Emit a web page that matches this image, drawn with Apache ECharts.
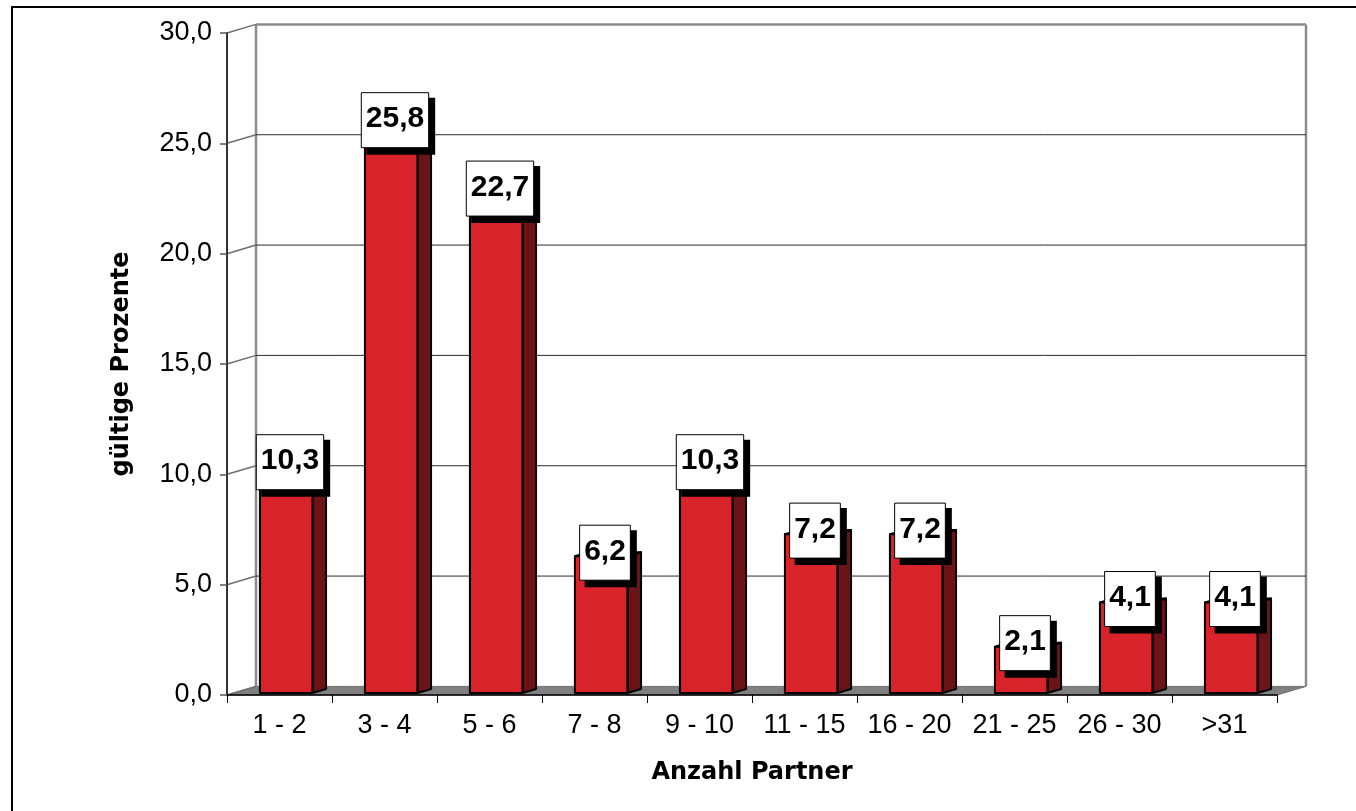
<!DOCTYPE html>
<html><head><meta charset="utf-8">
<script src="https://cdn.jsdelivr.net/npm/echarts@6/dist/echarts.min.js"></script>
<style>html,body{margin:0;padding:0;background:#fff}#c{width:1356px;height:811px}</style>
</head><body><div id="c"></div>
<script>
const categories = ['1 - 2','3 - 4','5 - 6','7 - 8','9 - 10','11 - 15','16 - 20','21 - 25','26 - 30','>31'];
const values = [10.3, 25.8, 22.7, 6.2, 10.3, 7.2, 7.2, 2.1, 4.1, 4.1];
const yTicks = [0, 5, 10, 15, 20, 25, 30];
const xTitle = 'Anzahl Partner';
const yTitle = 'gültige Prozente';

const DX = 29, DY = -8.6;      // depth offset of the back wall
const T1 = 0.23, T2 = 0.70;    // bar depth (front / back)
const fmt = v => v.toFixed(1).replace('.', ',');
const LABEL_FONT = 'bold 30px "Liberation Sans", Arial, sans-serif';
const mctx = document.createElement('canvas').getContext('2d');
mctx.font = LABEL_FONT;

const chart = echarts.init(document.getElementById('c'), null, {renderer: 'canvas'});

function renderGridLine(params, api) {
  const cs = params.coordSys;
  const v = api.value(1);
  const y = api.coord([0, v])[1];
  const L = cs.x, R = cs.x + cs.width;
  const isTop = v === yTicks[yTicks.length - 1];
  const children = [];
  if (v !== yTicks[0]) {
    children.push({type: 'line', shape: {x1: L + DX, y1: y + DY, x2: R + DX, y2: y + DY},
      style: {stroke: isTop ? '#8c8c8c' : '#2b2b2b', lineWidth: isTop ? 2.5 : 1}});
  }
  children.push({type: 'line', shape: {x1: L, y1: y, x2: L + DX, y2: y + DY},
    style: {stroke: '#6e6e6e', lineWidth: 1.5}});
  return {type: 'group', children};
}

function renderFrame(params, api) {
  const cs = params.coordSys;
  const L = cs.x, R = cs.x + cs.width;
  const y0 = api.coord([0, yTicks[0]])[1];
  const yT = api.coord([0, yTicks[yTicks.length - 1]])[1];
  return {type: 'group', children: [
    {type: 'line', shape: {x1: L + DX, y1: yT + DY, x2: L + DX, y2: y0 + DY}, style: {stroke: '#8c8c8c', lineWidth: 2.5}},
    {type: 'line', shape: {x1: R + DX, y1: yT + DY, x2: R + DX, y2: y0 + DY}, style: {stroke: '#8c8c8c', lineWidth: 2.5}},
    {type: 'polygon', shape: {points: [[L, y0], [R, y0], [R + DX, y0 + DY], [L + DX, y0 + DY]]},
      style: {fill: '#808080', stroke: '#707070', lineWidth: 1}}
  ]};
}

function renderBar(params, api) {
  const i = api.value(0), v = api.value(1);
  const c0 = api.coord([i, 0]);
  const c1 = api.coord([i, v]);
  const bw = api.size([1, 0])[0] * 0.5;
  const xl = c0[0] - bw / 2, xr = c0[0] + bw / 2;
  const yb = c0[1], yt = c1[1];
  const P = (x, y, t) => [x + t * DX, y + t * DY];
  const edge = {stroke: '#000', lineWidth: 2, lineJoin: 'round'};
  const front = [P(xl, yt, T1), P(xr, yt, T1), P(xr, yb, T1), P(xl, yb, T1)];
  const side = [P(xr, yt, T1), P(xr, yt, T2), P(xr, yb, T2), P(xr, yb, T1)];
  const top = [P(xl, yt, T1), P(xr, yt, T1), P(xr, yt, T2), P(xl, yt, T2)];
  const text = fmt(v);
  const tw = mctx.measureText(text).width;
  const bwid = tw + 9, bh = 55;
  const mid = P(c0[0], yt, (T1 + T2) / 2);
  const cx = mid[0] - 3, cy = mid[1] - 1.5;
  const bx = cx - bwid / 2, by = cy - bh / 2;
  return {type: 'group', children: [
    {type: 'polygon', shape: {points: side}, style: Object.assign({fill: '#6b1317'}, edge)},
    {type: 'polygon', shape: {points: top}, style: Object.assign({fill: '#c81f26'}, edge)},
    {type: 'polygon', shape: {points: front}, style: Object.assign({fill: '#d9232a'}, edge)},
    {type: 'rect', shape: {x: bx + 5, y: by + 5, width: bwid + 1.5, height: bh + 2}, style: {fill: '#000'}},
    {type: 'rect', shape: {x: bx, y: by, width: bwid, height: bh}, style: {fill: '#fff', stroke: '#000', lineWidth: 1}},
    {type: 'text', style: {x: cx, y: cy - 1, text: text, font: LABEL_FONT, fill: '#000', align: 'center', verticalAlign: 'middle'}}
  ]};
}

const axisFont = {color: '#000', fontSize: 27, fontFamily: '"Liberation Sans", Arial, sans-serif'};
const titleFont = {color: '#000', fontSize: 24, fontWeight: 'bold', fontFamily: '"DejaVu Sans", sans-serif'};

chart.setOption({
  animation: false,
  backgroundColor: '#fff',
  graphic: [{type: 'rect', silent: true, z: -10,
    shape: {x: 12, y: 7, width: 1360, height: 820},
    style: {fill: 'none', stroke: '#000', lineWidth: 2}}],
  grid: {left: 227, top: 33, width: 1050, height: 662, containLabel: false},
  xAxis: {
    type: 'category', data: categories, boundaryGap: true, z: 5,
    name: xTitle, nameLocation: 'middle', nameGap: 66, nameTextStyle: titleFont,
    axisLine: {lineStyle: {color: '#000', width: 1.5}},
    axisTick: {show: true, length: 8, lineStyle: {color: '#000', width: 1}},
    axisLabel: Object.assign({interval: 0, margin: 17}, axisFont),
    splitLine: {show: false}
  },
  yAxis: {
    type: 'value', min: 0, max: 30, interval: 5, z: 5,
    name: yTitle, nameLocation: 'middle', nameGap: 93, nameRotate: 90, nameTextStyle: titleFont,
    axisLine: {show: true, lineStyle: {color: '#333', width: 2}},
    axisTick: {show: true, length: 7, lineStyle: {color: '#555', width: 1.5}},
    axisLabel: Object.assign({formatter: fmt, margin: 15}, axisFont),
    splitLine: {show: false}
  },
  series: [
    {type: 'custom', name: 'frame', z: 1, silent: true, renderItem: renderFrame, data: [[0, 0]]},
    {type: 'custom', name: 'grid', z: 1, silent: true, renderItem: renderGridLine, data: yTicks.map(v => [0, v])},
    {type: 'custom', name: 'Prozent', z: 3, renderItem: renderBar, data: values.map((v, i) => [i, v])}
  ]
});
</script></body></html>
